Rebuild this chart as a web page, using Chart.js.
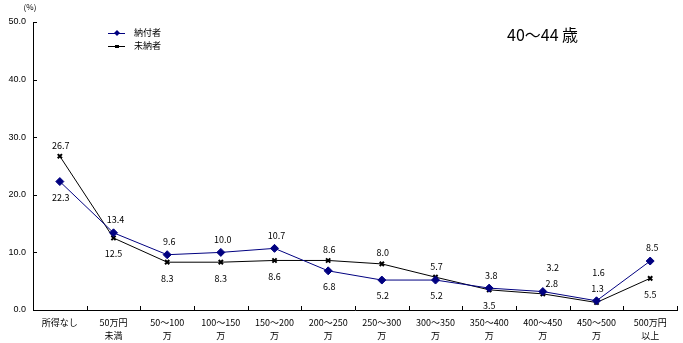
<!DOCTYPE html>
<html>
<head>
<meta charset="utf-8">
<script src="https://cdn.jsdelivr.net/npm/chart.js@4.4.0/dist/chart.umd.min.js"></script>
<style>
  html, body { margin: 0; padding: 0; background: #fff; }
  #wrap { position: relative; width: 683px; height: 343px; }
</style>
</head>
<body>
<div id="wrap"><canvas id="myChart" width="683" height="343"></canvas></div>
<script>
// カテゴリ (所得階級)
const categories = [
    ['所得なし'], ['50万円', '未満'], ['50～100', '万'], ['100～150', '万'],
    ['150～200', '万'], ['200～250', '万'], ['250～300', '万'], ['300～350', '万'],
    ['350～400', '万'], ['400～450', '万'], ['450～500', '万'], ['500万円', '以上']
];
// 納付者 (%)
const paidValues = [22.3, 13.4, 9.6, 10.0, 10.7, 6.8, 5.2, 5.2, 3.8, 3.2, 1.6, 8.5];
// 未納者 (%)
const unpaidValues = [26.7, 12.5, 8.3, 8.3, 8.6, 8.6, 8.0, 5.7, 3.5, 2.8, 1.3, 5.5];
const yTicks = [0, 10, 20, 30, 40, 50];
const titleText = '40～44 歳';

const font9 = '9px "Noto Sans CJK JP", "Liberation Sans", sans-serif';

// 軸の内向き目盛り、凡例、タイトル、数値ラベル
const decorPlugin = {
    id: 'decor',
    afterDraw(chart) {
        const ctx = chart.ctx;
        const x = chart.scales.x, y = chart.scales.y;
        const area = chart.chartArea;
        ctx.save();
        ctx.strokeStyle = '#000';
        ctx.lineWidth = 1;
        // y 目盛り
        yTicks.forEach(v => {
            const py = Math.round(y.getPixelForValue(v)) + 0.5;
            ctx.beginPath();
            ctx.moveTo(area.left, py);
            ctx.lineTo(area.left + 4, py);
            ctx.stroke();
        });
        // x 目盛り (カテゴリ境界)
        const step = (area.right - area.left) / categories.length;
        for (let i = 1; i <= categories.length; i++) {
            const px = Math.round(area.left + step * i) + 0.5;
            ctx.beginPath();
            ctx.moveTo(px, area.bottom);
            ctx.lineTo(px, area.bottom - 4);
            ctx.stroke();
        }
        // (%)
        ctx.fillStyle = '#000';
        ctx.font = '8px "Noto Sans CJK JP", sans-serif';
        ctx.textAlign = 'center';
        ctx.textBaseline = 'middle';
        ctx.fillText('(%)', area.left - 3, 7);

        // 凡例
        ctx.font = font9;
        ctx.textAlign = 'left';
        chart.data.datasets.forEach((ds, i) => {
            const ly = 33 + i * 13;
            ctx.strokeStyle = ds.borderColor;
            ctx.beginPath();
            ctx.moveTo(108, ly + 0.5);
            ctx.lineTo(125, ly + 0.5);
            ctx.stroke();
            ctx.fillStyle = ds.borderColor;
            if (i === 0) {
                ctx.beginPath();
                ctx.moveTo(117, ly - 3); ctx.lineTo(120, ly); ctx.lineTo(117, ly + 3); ctx.lineTo(114, ly);
                ctx.closePath(); ctx.fill();
            } else {
                ctx.fillRect(115, ly - 1, 4, 3);
            }
            ctx.fillStyle = '#000';
            ctx.fillText(ds.label, 134, ly);
        });

        // タイトル
        ctx.font = '16px "Noto Sans CJK JP", sans-serif';
        ctx.textAlign = 'left';
        ctx.fillText(titleText, 507, 35);

        // 数値ラベル
        ctx.font = font9;
        ctx.textAlign = 'center';
        const m0 = chart.getDatasetMeta(0).data;
        const m1 = chart.getDatasetMeta(1).data;
        for (let i = 0; i < categories.length; i++) {
            const a = paidValues[i], b = unpaidValues[i];
            const pa = m0[i], pb = m1[i];
            if (a < 3.3 && b < 3.3) {
                // 両方とも上
                const top = Math.min(pa.y, pb.y);
                const dx = a > 2 ? 10 : 2;
                const dy = a > 2 ? 0 : -4;
                ctx.fillText(a.toFixed(1), pa.x + dx, top - 24 + dy);
                ctx.fillText(b.toFixed(1), pb.x + dx - 1, top - 8 + dy);
            } else if (a >= b) {
                ctx.fillText(a.toFixed(1), pa.x + 2, pa.y - 13);
                ctx.fillText(b.toFixed(1), pb.x, pb.y + 16);
            } else {
                ctx.fillText(b.toFixed(1), pb.x + 1, pb.y - 11);
                ctx.fillText(a.toFixed(1), pa.x + 1, pa.y + 16);
            }
        }
        ctx.restore();
    }
};

const ctx = document.getElementById('myChart').getContext('2d');
new Chart(ctx, {
    type: 'line',
    data: {
        labels: categories,
        datasets: [
            {
                label: '納付者',
                data: paidValues,
                borderColor: '#000080',
                backgroundColor: '#000080',
                borderWidth: 1,
                pointStyle: 'rectRot',
                pointRadius: 4,
                pointBorderWidth: 1,
                tension: 0
            },
            {
                label: '未納者',
                data: unpaidValues,
                borderColor: '#000000',
                backgroundColor: '#000000',
                borderWidth: 1,
                pointStyle: 'crossRot',
                pointRadius: 3,
                pointBorderWidth: 2,
                tension: 0
            }
        ]
    },
    options: {
        responsive: false,
        animation: false,
        layout: { padding: { top: 22, right: 5, left: 0, bottom: 0 } },
        plugins: {
            legend: { display: false },
            tooltip: { enabled: false }
        },
        scales: {
            x: {
                offset: true,
                grid: { display: false, drawTicks: false },
                border: { display: true, color: '#000', width: 1 },
                ticks: {
                    color: '#000',
                    font: { family: '"Noto Sans CJK JP", sans-serif', size: 9, lineHeight: 1.45 },
                    maxRotation: 0,
                    autoSkip: false,
                    padding: 6
                },
                afterFit(scale) { scale.height = 33; }
            },
            y: {
                min: 0,
                max: 50,
                grid: { display: false, drawTicks: false },
                border: { display: true, color: '#000', width: 1 },
                ticks: {
                    stepSize: 10,
                    color: '#000',
                    font: { family: '"Liberation Sans", sans-serif', size: 9 },
                    padding: 7,
                    callback: v => v.toFixed(1)
                },
                afterFit(scale) { scale.width = 33; }
            }
        }
    },
    plugins: [decorPlugin]
});
</script>
</body>
</html>
